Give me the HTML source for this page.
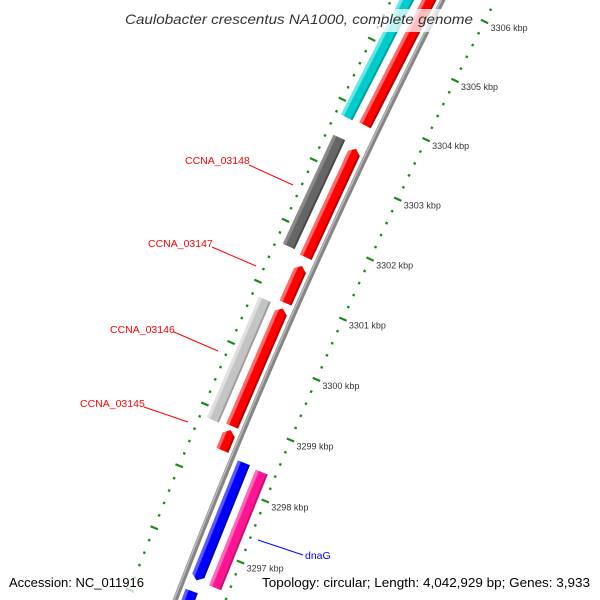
<!DOCTYPE html>
<html><head><meta charset="utf-8"><style>
html,body{margin:0;padding:0;background:#fff;overflow:hidden;width:600px;height:600px;}
svg{display:block;overflow:hidden;}
</style></head><body>
<svg id="map" xmlns="http://www.w3.org/2000/svg" width="600" height="600" viewBox="0 0 600 600">
<defs id="defs"></defs>
<g id="rings"></g>
<g id="backbone"></g>
<g id="features"></g>
<g id="ticklabels"></g>
<g font-family="Liberation Sans, sans-serif" font-size="10.5">
  <line x1="249" y1="165" x2="293" y2="185" stroke="#f00" stroke-width="1"/>
  <text x="185" y="164" fill="#f00">CCNA_03148</text>
  <line x1="212" y1="247" x2="256" y2="266" stroke="#f00" stroke-width="1"/>
  <text x="148" y="247" fill="#f00">CCNA_03147</text>
  <line x1="174" y1="332" x2="218" y2="351" stroke="#f00" stroke-width="1"/>
  <text x="110" y="333" fill="#f00">CCNA_03146</text>
  <line x1="144" y1="407" x2="188" y2="422" stroke="#f00" stroke-width="1"/>
  <text x="80" y="407" fill="#f00">CCNA_03145</text>
  <line x1="258" y1="540" x2="303" y2="555" stroke="#00f" stroke-width="1"/>
  <text x="305" y="559" fill="#00f">dnaG</text>
</g>
<rect x="122" y="9" width="356" height="23" fill="#fff" opacity="0.75"/>
<text x="125" y="24" font-family="Liberation Sans, sans-serif" font-style="italic" font-size="14" fill="#333" textLength="348" lengthAdjust="spacingAndGlyphs">Caulobacter crescentus NA1000, complete genome</text>
<rect x="6" y="574" width="142" height="18" fill="#fff" opacity="0.75"/>
<text x="9" y="587" font-family="Liberation Sans, sans-serif" font-size="13" fill="#000" textLength="135" lengthAdjust="spacingAndGlyphs">Accession: NC_011916</text>
<rect x="259" y="574" width="337" height="18" fill="#fff" opacity="0.75"/>
<text x="262" y="587" font-family="Liberation Sans, sans-serif" font-size="13" fill="#000" textLength="328" lengthAdjust="spacingAndGlyphs">Topology: circular; Length: 4,042,929 bp; Genes: 3,933</text>
</svg>
<script>
// data
var tickLabels = [3296, 3297, 3298, 3299, 3300, 3301, 3302, 3303, 3304, 3305, 3306, 3307];
var featureNames = ['top-cyan', 'top-red', 'dark-gray-03148', 'ccna-03148', 'ccna-03147', 'light-gray-03146', 'ccna-03146', 'ccna-03145', 'dnag-blue', 'dnag-pink', 'next-blue'];
var featureStarts = [3303.77, 3303.79, 3301.66, 3301.62, 3300.87, 3298.82, 3298.85, 3298.46, 3296.5, 3296.5, 3293.0];
var featureEnds = [3309.0, 3309.0, 3303.47, 3303.42, 3301.48, 3300.8, 3300.78, 3298.79, 3298.41, 3298.38, 3296.32];
var featureRings = [-32, -12, -32, -12, -12, -32, -12, -12, 13, 33, 13];
var featureColors = ['cyan', 'red', 'dgray', 'red', 'red', 'lgray', 'red', 'red', 'blue', 'pink', 'blue'];
var featureArrows = [0, 0, 0, 1, 1, 0, 1, 1, -1, 0, 0];

// geometry (axis functions)
var NS = 'http://www.w3.org/2000/svg';
var RAD = 6561, PX_PER_KBP = 66.4, P0 = 3301.0, PSI0 = 204 * Math.PI / 180;
var CX = 300 - RAD * Math.cos(PSI0), CY = 300 - RAD * Math.sin(PSI0);
function psi(p) { return PSI0 + (p - P0) * PX_PER_KBP / RAD; }
function pt(p, o) { var a = psi(p), r = RAD - o; return [CX + r * Math.cos(a), CY + r * Math.sin(a)]; }
function rotDeg(p) { return psi(p) * 180 / Math.PI - 180; }
function mk(tag, attrs, parent) { var el = document.createElementNS(NS, tag); for (var k in attrs) el.setAttribute(k, attrs[k]); parent.appendChild(el); return el; }

var palette = {
  cyan: ['#66e6e6', '#00cccc', '#009a9a'],
  red: ['#ff6a6a', '#ff0000', '#b00000'],
  dgray: ['#8a8a8a', '#666666', '#444444'],
  lgray: ['#e0e0e0', '#c4c4c4', '#9a9a9a'],
  blue: ['#5a5aff', '#0000ff', '#0000aa'],
  pink: ['#ff6ab8', '#ff1493', '#c0106f']
};
var defsEl = document.getElementById('defs');
for (var pkey in palette) {
  var grad = mk('linearGradient', {id: 'g-' + pkey, x1: '0', y1: '0', x2: '1', y2: '0'}, defsEl);
  mk('stop', {offset: '0', 'stop-color': palette[pkey][0]}, grad);
  mk('stop', {offset: '0.22', 'stop-color': palette[pkey][0]}, grad);
  mk('stop', {offset: '0.3', 'stop-color': palette[pkey][1]}, grad);
  mk('stop', {offset: '0.82', 'stop-color': palette[pkey][1]}, grad);
  mk('stop', {offset: '0.9', 'stop-color': palette[pkey][2]}, grad);
  mk('stop', {offset: '1', 'stop-color': palette[pkey][2]}, grad);
}

// tick rings
var ringsG = document.getElementById('rings');
var ringOffsets = [47, -46];
for (var ri = 0; ri < 2; ri++) {
  for (var kk = 32940; kk <= 33090; kk += 2) {
    var tp = kk / 10;
    var tc = pt(tp, ringOffsets[ri]);
    var isMajor = (kk % 10 === 0);
    var tw = isMajor ? 8 : 2.4, th = isMajor ? 2.2 : 2.4;
    var tick = mk('rect', {x: -tw / 2, y: -th / 2, width: tw, height: th, fill: '#1b8a1b',
      transform: 'translate(' + tc[0].toFixed(2) + ',' + tc[1].toFixed(2) + ') rotate(' + rotDeg(tp).toFixed(3) + ')'}, ringsG);
    
    
  }
}

// backbone
var bbG = document.getElementById('backbone');
function arcPath(o, p1, p2) {
  var d = '', n = 40;
  for (var i = 0; i <= n; i++) { var q = p1 + (p2 - p1) * i / n; var c = pt(q, o); d += (i ? 'L' : 'M') + c[0].toFixed(2) + ',' + c[1].toFixed(2); }
  return d;
}
var bbLine = mk('path', {d: arcPath(0, 3295.5, 3307.5), stroke: '#858585', 'stroke-width': 5, fill: 'none'}, bbG);


var bbHi = mk('path', {d: arcPath(-1.2, 3295.5, 3307.5), stroke: '#b8b8b8', 'stroke-width': 1.6, fill: 'none'}, bbG);



// features
var featG = document.getElementById('features');
for (var fi = 0; fi < featureStarts.length; fi++) {
  var fs = featureStarts[fi], fe = featureEnds[fi], fpm = (fs + fe) / 2;
  var flen = (fe - fs) * PX_PER_KBP, hw = 6.5, ah = 5;
  var fc = pt(fpm, featureRings[fi]);
  var yTop = -flen / 2, yBot = flen / 2, fpts;
  if (featureArrows[fi] === 1) fpts = [[-hw, yBot], [-hw, yTop + ah], [0, yTop], [hw, yTop + ah], [hw, yBot]];
  else if (featureArrows[fi] === -1) fpts = [[-hw, yTop], [hw, yTop], [hw, yBot - ah], [0, yBot], [-hw, yBot - ah]];
  else fpts = [[-hw, yTop], [hw, yTop], [hw, yBot], [-hw, yBot]];
  var fstr = fpts.map(function (q) { return q[0].toFixed(2) + ',' + q[1].toFixed(2); }).join(' ');
  var feat = mk('polygon', {points: fstr, fill: 'url(#g-' + featureColors[fi] + ')',
    transform: 'translate(' + fc[0].toFixed(2) + ',' + fc[1].toFixed(2) + ') rotate(' + rotDeg(fpm).toFixed(3) + ')'}, featG);
  
  
}

// tick labels
var tlG = document.getElementById('ticklabels');
for (var li = 0; li < tickLabels.length; li++) {
  var lc = pt(tickLabels[li], 47);
  var lt = mk('text', {x: (lc[0] + 6).toFixed(1), y: (lc[1] + 9.5).toFixed(1), 'font-family': 'Liberation Sans, sans-serif', 'font-size': '9', fill: '#333'}, tlG);
  lt.textContent = tickLabels[li] + ' kbp';
  
  
}
</script>
</body></html>
